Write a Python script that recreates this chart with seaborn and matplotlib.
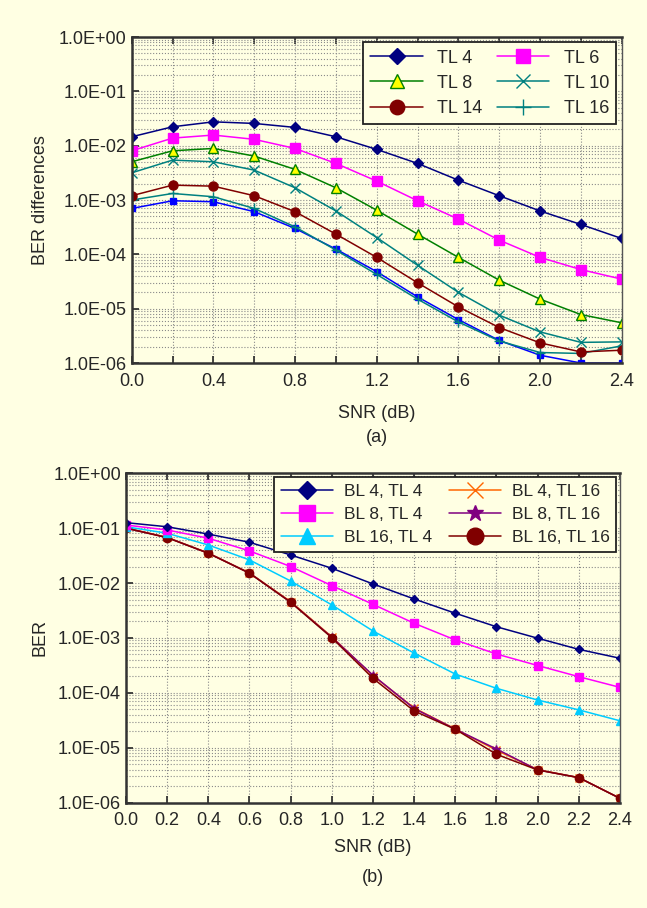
import numpy as np
import pandas as pd
import seaborn as sns
import matplotlib.pyplot as plt
from matplotlib.ticker import FuncFormatter, LogLocator, MultipleLocator, NullFormatter

# Data
snr = [0.0, 0.2, 0.4, 0.6, 0.8, 1.0, 1.2, 1.4, 1.6, 1.8, 2.0, 2.2, 2.4]

# (a) BER differences
tl4 = [1.46e-2, 2.23e-2, 2.75e-2, 2.57e-2, 2.17e-2, 1.46e-2, 8.55e-3, 4.72e-3, 2.32e-3, 1.2e-3, 6.3e-4, 3.55e-4, 1.96e-4]
tl6 = [8.06e-3, 1.38e-2, 1.57e-2, 1.31e-2, 8.9e-3, 4.72e-3, 2.23e-3, 9.7e-4, 4.46e-4, 1.83e-4, 8.8e-5, 5.25e-5, 3.5e-5]
tl8 = [5.06e-3, 8.06e-3, 8.9e-3, 6.45e-3, 3.66e-3, 1.68e-3, 6.5e-4, 2.36e-4, 8.8e-5, 3.35e-5, 1.5e-5, 7.8e-6, 5.5e-6]
tl10 = [3.17e-3, 5.43e-3, 5.06e-3, 3.55e-3, 1.68e-3, 6.3e-4, 2.04e-4, 6.3e-5, 2.0e-5, 7.6e-6, 3.74e-6, 2.4e-6, 2.45e-6]
tl14 = [1.2e-3, 1.88e-3, 1.8e-3, 1.2e-3, 6.1e-4, 2.36e-4, 8.8e-5, 3.0e-5, 1.08e-5, 4.5e-6, 2.35e-6, 1.6e-6, 1.72e-6]
tl16 = [1.0e-3, 1.32e-3, 1.15e-3, 7.0e-4, 3.2e-4, 1.2e-4, 4.27e-5, 1.5e-5, 5.7e-6, 2.55e-6, 1.56e-6, 1.5e-6, 2.07e-6]
extra = [7.0e-4, 9.7e-4, 9.3e-4, 6.1e-4, 3.0e-4, 1.25e-4, 4.8e-5, 1.65e-5, 6.3e-6, 2.6e-6, 1.39e-6, 1.0e-6, 1.0e-6]

# (b) BER
bl4_tl4 = [0.126, 0.106, 0.078, 0.0553, 0.0325, 0.0186, 9.64e-3, 5.13e-3, 2.82e-3, 1.6e-3, 9.9e-4, 6.2e-4, 4.27e-4]
bl8_tl4 = [0.114, 0.0927, 0.0655, 0.0385, 0.02, 8.97e-3, 4.1e-3, 1.85e-3, 9.2e-4, 5.1e-4, 3.15e-4, 1.97e-4, 1.26e-4]
bl16_tl4 = [0.106, 0.0807, 0.0494, 0.0264, 0.0109, 4.0e-3, 1.34e-3, 5.3e-4, 2.2e-4, 1.21e-4, 7.4e-5, 4.9e-5, 3.1e-5]
bl4_tl16 = [0.101, 0.068, 0.0352, 0.0153, 4.6e-3, 1.05e-3, 2.05e-4, 5.3e-5, 2.2e-5, 9.0e-6, 4.0e-6, 2.86e-6, 1.2e-6]
bl8_tl16 = [0.1, 0.0675, 0.035, 0.0152, 4.5e-3, 1.03e-3, 2.1e-4, 5.2e-5, 2.18e-5, 9.5e-6, 3.95e-6, 2.86e-6, 1.2e-6]
bl16_tl16 = [0.1, 0.0672, 0.0349, 0.0151, 4.47e-3, 1.01e-3, 1.84e-4, 4.68e-5, 2.17e-5, 7.6e-6, 3.94e-6, 2.86e-6, 1.2e-6]

bg = '#FFFFE3'
sns.set_style("ticks")
plt.rcParams['font.family'] = ['Liberation Sans', 'DejaVu Sans']
plt.rcParams['font.size'] = 13

fig = plt.figure(figsize=(6.47, 9.08), dpi=100, facecolor=bg)
ax1 = fig.add_axes([0.2036, 0.6002, 0.7573, 0.359])
ax2 = fig.add_axes([0.1947, 0.116, 0.7635, 0.3628])


def draw(ax, y, color, marker, ms, label, mfc=None, mew=1.0):
    sns.lineplot(x=snr, y=y, ax=ax, color=color, marker=marker, markersize=ms,
                 markerfacecolor=mfc if mfc else color, markeredgecolor=color,
                 markeredgewidth=mew, linewidth=1.1, label=label)


# top chart
draw(ax1, extra, '#0000FF', 's', 4, '_nolegend_')
draw(ax1, tl16, '#008080', '+', 7, 'TL 16')
draw(ax1, tl14, '#800000', 'o', 6.5, 'TL 14')
draw(ax1, tl10, '#008080', 'x', 6.5, 'TL 10')
draw(ax1, tl8, '#008000', '^', 6.5, 'TL 8', mfc='#FFFF00')
draw(ax1, tl6, '#FF00FF', 's', 6.5, 'TL 6')
draw(ax1, tl4, '#000080', 'D', 5, 'TL 4')

# bottom chart
draw(ax2, bl4_tl16, '#FF6600', 'x', 6, 'BL 4, TL 16')
draw(ax2, bl8_tl16, '#800080', '*', 6, 'BL 8, TL 16')
draw(ax2, bl16_tl16, '#800000', 'o', 6, 'BL 16, TL 16')
draw(ax2, bl16_tl4, '#00CCFF', '^', 6, 'BL 16, TL 4')
draw(ax2, bl8_tl4, '#FF00FF', 's', 6, 'BL 8, TL 4')
draw(ax2, bl4_tl4, '#000080', 'D', 4.5, 'BL 4, TL 4')

for ax in (ax1, ax2):
    ax.set_facecolor(bg)
    ax.set_yscale('log')
    ax.set_ylim(1e-6, 1.0)
    ax.set_xlim(0, 2.4)
    ax.yaxis.set_major_locator(LogLocator(base=10, numticks=10))
    ax.yaxis.set_minor_locator(LogLocator(base=10, subs=np.arange(2, 10), numticks=10))
    ax.yaxis.set_major_formatter(FuncFormatter(lambda v, p: f"{v:.1E}"))
    ax.yaxis.set_minor_formatter(NullFormatter())
    ax.xaxis.set_major_formatter(FuncFormatter(lambda v, p: f"{v:.1f}"))
    ax.grid(which='both', linestyle=':', color='#8a8a8a', linewidth=0.8)
    ax.tick_params(which='major', direction='in', top=True, right=False, length=5,
                   labelsize=13, width=1.2)
    ax.tick_params(axis='x', which='major', pad=7)
    ax.tick_params(which='minor', direction='in', top=True, right=False, left=False,
                   length=5, width=1.2)
    ax.tick_params(axis='y', which='minor', length=0)
    for side in ('left', 'bottom', 'top'):
        ax.spines[side].set_linewidth(1.8)
        ax.spines[side].set_color('#333333')
    ax.spines['right'].set_linewidth(1.0)
    ax.spines['right'].set_color('#555555')

ax1.xaxis.set_major_locator(MultipleLocator(0.4))
ax1.xaxis.set_minor_locator(MultipleLocator(0.2))
ax2.xaxis.set_major_locator(MultipleLocator(0.2))
ax2.tick_params(axis='x', which='minor', length=0)

ax1.set_ylabel("BER differences", fontsize=13)
ax1.yaxis.set_label_coords(-0.168, 0.5)
ax1.set_xlabel("SNR (dB)", fontsize=13)
ax1.xaxis.set_label_coords(0.5, -0.128)
ax1.text(0.5, -0.23, "(a)", transform=ax1.transAxes, ha='center', va='center', fontsize=13)

ax2.set_ylabel("BER", fontsize=13)
ax2.yaxis.set_label_coords(-0.157, 0.5)
ax2.set_xlabel("SNR (dB)", fontsize=13)
ax2.xaxis.set_label_coords(0.5, -0.11)
ax2.text(0.5, -0.228, "(b)", transform=ax2.transAxes, ha='center', va='center', fontsize=13)

# legends in the order of the picture (filled column by column)
h1, l1 = ax1.get_legend_handles_labels()
d1 = dict(zip(l1, h1))
order1 = ['TL 4', 'TL 8', 'TL 14', 'TL 6', 'TL 10', 'TL 16']
leg1 = ax1.legend([d1[k] for k in order1], order1, ncol=2, loc='upper right',
                  fontsize=13, markerscale=1.6, handlelength=2.9, columnspacing=0.8,
                  labelspacing=0.45, borderaxespad=0.3, fancybox=False,
                  facecolor=bg, edgecolor='#222222', framealpha=1)
leg1.get_frame().set_linewidth(1.3)

h2, l2 = ax2.get_legend_handles_labels()
d2 = dict(zip(l2, h2))
order2 = ['BL 4, TL 4', 'BL 8, TL 4', 'BL 16, TL 4', 'BL 4, TL 16', 'BL 8, TL 16', 'BL 16, TL 16']
leg2 = ax2.legend([d2[k] for k in order2], order2, ncol=2, loc='upper right',
                  fontsize=12.5, markerscale=2.0, handlelength=3.0, columnspacing=1.0,
                  labelspacing=0.45, borderaxespad=0.2, fancybox=False, handletextpad=0.6,
                  facecolor=bg, edgecolor='#222222', framealpha=1)
leg2.get_frame().set_linewidth(1.3)

fig.savefig("out.png", dpi=100, facecolor=bg)
